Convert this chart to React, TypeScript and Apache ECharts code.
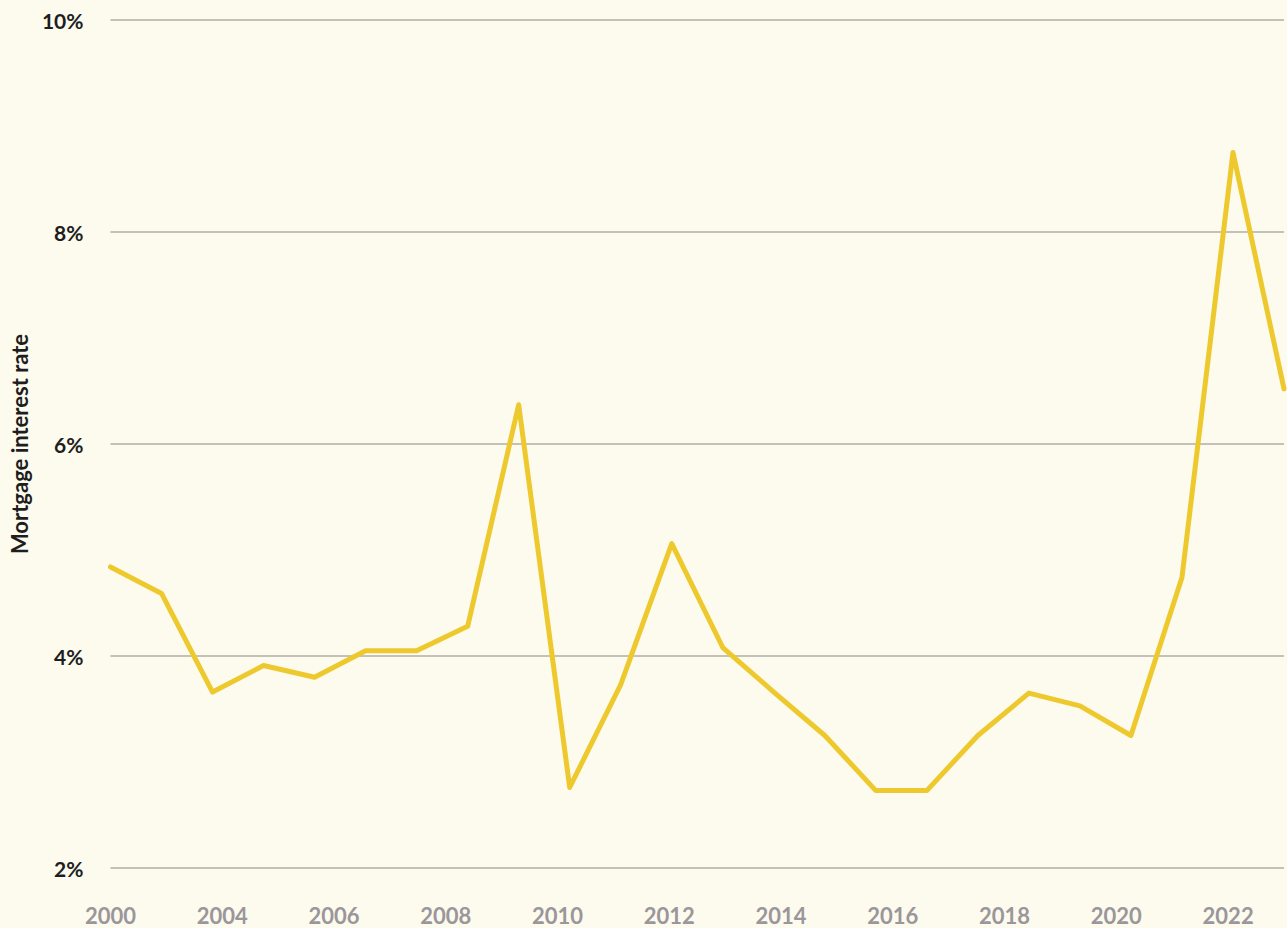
import React, { useEffect, useRef } from "react";
import * as echarts from "echarts";

// Data periods (24 evenly spaced observations)
const periods = [
  "2000", "2001", "2002", "2003", "2004", "2005", "2006", "2007",
  "2008", "2009", "2010", "2011", "2012", "2013", "2014", "2015",
  "2016", "2017", "2018", "2019", "2020", "2021", "2022", "2023",
];
// Mortgage interest rate (%)
const rates = [
  4.84, 4.59, 3.66, 3.91, 3.8, 4.05, 4.05, 4.28,
  6.37, 2.76, 3.73, 5.06, 4.08, 3.66, 3.25, 2.73,
  2.73, 3.25, 3.65, 3.53, 3.25, 4.74, 8.75, 6.52,
];
// Tick labels shown along the bottom
const xTickLabels = [
  "2000", "2004", "2006", "2008", "2010", "2012",
  "2014", "2016", "2018", "2020", "2022",
];
const yTicks = [2, 4, 6, 8, 10];

const FONT = "Lato, 'Open Sans', sans-serif";

export default function App() {
  const ref = useRef<HTMLDivElement>(null);
  useEffect(() => {
    document.body.style.margin = "0";
    const chart = echarts.init(ref.current!, null, { renderer: "svg" });
    chart.setOption({
      animation: false,
      backgroundColor: "#FDFAEE",
      textStyle: { fontFamily: FONT },
      grid: {
        left: 110.5,
        right: 3,
        top: 20,
        bottom: 60,
        containLabel: false,
        outerBoundsMode: "none",
      },
      xAxis: [
        {
          type: "category",
          data: periods,
          boundaryGap: false,
          show: false,
        },
        {
          type: "value",
          position: "bottom",
          min: 2002,
          max: 2023,
          interval: 2,
          axisLine: { show: false },
          axisTick: { show: false },
          splitLine: { show: false },
          axisLabel: {
            show: true,
            showMaxLabel: false,
            margin: 36,
            color: "#9A969A",
            fontSize: 22,
            fontWeight: "bold",
            fontFamily: FONT,
            formatter: (_v: number, i: number) => xTickLabels[i] ?? "",
          },
        },
      ],
      yAxis: {
        type: "value",
        min: yTicks[0],
        max: yTicks[yTicks.length - 1],
        interval: 2,
        name: "Mortgage interest rate",
        nameLocation: "middle",
        nameGap: 80,
        nameRotate: 90,
        nameTextStyle: {
          color: "#1E1E1E",
          fontSize: 22,
          fontWeight: "bold",
          fontFamily: FONT,
        },
        axisLine: { show: false },
        axisTick: { show: false },
        axisLabel: {
          margin: 27,
          color: "#1E1E1E",
          fontSize: 21,
          fontWeight: "bold",
          fontFamily: FONT,
          formatter: (v: number) => `${v}%`,
        },
        splitLine: { lineStyle: { color: "#C4C2B8", width: 2 } },
      },
      series: [
        {
          type: "line",
          xAxisIndex: 0,
          data: rates,
          symbol: "none",
          lineStyle: { color: "#EDC92E", width: 5, join: "round", cap: "round" },
        },
      ],
    });
    return () => chart.dispose();
  }, []);
  return <div ref={ref} style={{ width: 1287, height: 928 }} />;
}
